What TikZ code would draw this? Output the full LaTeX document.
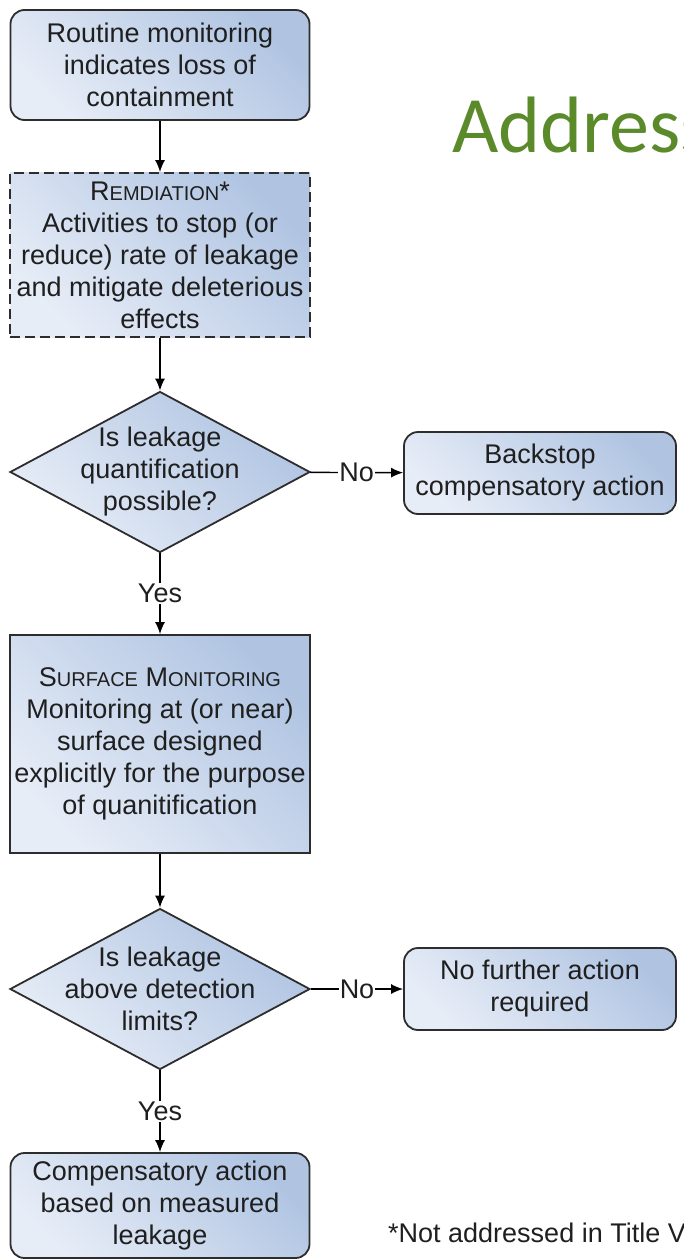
\documentclass[tikz,border=0pt]{standalone}
\usepackage{fontspec}
\setmainfont{Liberation Sans}
\newfontfamily\titlefont{Carlito}
\usetikzlibrary{arrows.meta,shapes.geometric}
\definecolor{boxlight}{RGB}{231,237,247}
\definecolor{boxblue}{RGB}{176,196,226}
\definecolor{edgegray}{RGB}{45,45,45}
\definecolor{titlegreen}{RGB}{90,138,42}
\newcommand{\smcap}[1]{{\fontsize{20}{32}\selectfont #1}}

\begin{document}
\begin{tikzpicture}[x=1pt,y=-1pt,font=\fontsize{27}{32}\selectfont,
  shadebox/.style={draw=edgegray,line width=1.8pt,top color=boxlight,bottom color=boxblue,
    shading angle=135,align=center,inner sep=0pt,text=black!88},
  box/.style={shadebox,rounded corners=14pt},
  decision/.style={shadebox,diamond,aspect=1.86,minimum width=300pt,minimum height=161pt},
  asktext/.style={align=center,text=black!88,inner sep=0pt},
  flow/.style={-{Latex[length=12pt,width=10pt]},line width=1.4pt},
  tag/.style={fill=white,inner sep=1pt,text=black!88}]
  \useasboundingbox (0,0) rectangle (683,1260);
  \clip (0,0) rectangle (683,1260);
  % main column
  \node[box,minimum width=299pt,minimum height=110pt] (alarm) at (160,65)
    {Routine monitoring\\indicates loss of\\containment};
  \node[shadebox,dash pattern=on 10pt off 5pt,minimum width=300pt,minimum height=164pt] (remedy) at (160,255)
    {R\smcap{EMDIATION}*\\Activities to stop (or\\reduce) rate of leakage\\and mitigate deleterious\\effects};
  \node[decision,label={[asktext]center:{Is leakage\\quantification\\possible?}}] (quantify) at (160,472) {};
  \node[shadebox,minimum width=300pt,minimum height=218pt] (surface) at (160,744)
    {S\smcap{URFACE} M\smcap{ONITORING}\\Monitoring at (or near)\\surface designed\\explicitly for the purpose\\of quanitification};
  \node[decision,label={[asktext]center:{Is leakage\\above detection\\limits?}}] (detect) at (160,989) {};
  \node[box,minimum width=299pt,minimum height=105pt] (compensate) at (160,1205.5)
    {Compensatory action\\based on measured\\leakage};
  % side boxes
  \node[box,minimum width=272pt,minimum height=82pt] (backstop) at (540,473)
    {Backstop\\compensatory action};
  \node[box,minimum width=272pt,minimum height=82pt] (nofurther) at (540,989)
    {No further action\\required};
  % connectors
  \draw[flow] (alarm) -- (remedy);
  \draw[flow] (remedy) -- (quantify);
  \draw[flow] (quantify) -- node[tag]{No} (backstop);
  \draw[flow] (quantify) -- node[tag]{Yes} (surface);
  \draw[flow] (surface) -- (detect);
  \draw[flow] (detect) -- node[tag]{No} (nofurther);
  \draw[flow] (detect) -- node[tag]{Yes} (compensate);
  % title and note
  \node[anchor=base west,inner sep=0pt,text=titlegreen,font=\titlefont\fontsize{80}{90}\selectfont] (title) at (452,153) {Address};
  \node[anchor=base west,inner sep=0pt,text=black!88,font=\fontsize{27}{32}\selectfont] (note) at (388,1242) {*Not addressed in Title V};
\end{tikzpicture}
\end{document}
